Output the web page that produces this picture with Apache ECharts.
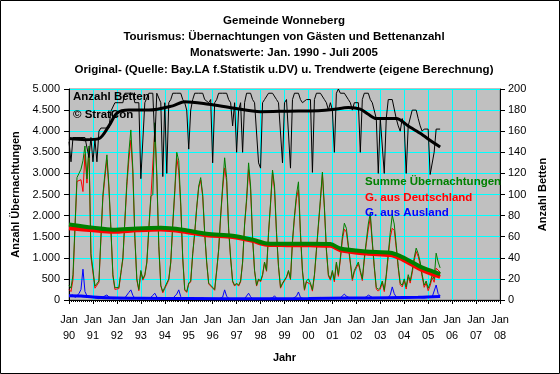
<!DOCTYPE html>
<html><head><meta charset="utf-8">
<script src="https://cdn.jsdelivr.net/npm/echarts@6/dist/echarts.min.js"></script>
<style>html,body{margin:0;padding:0;background:#fff}#c{width:560px;height:374px}</style>
</head><body><div id="c"></div>
<script>
// Monthly values Jan 1990 - Jul 2005 (one row per year)
const summe = [
 350,280,600,1750,2900,3000,3100,3300,3650,2870,3650,1100,
 1100,330,300,450,1500,2500,3000,3440,2700,1700,600,290,
 280,300,650,1000,1900,2800,3500,4030,3100,1500,500,250,
 700,500,600,900,1700,2450,2500,4200,3000,1300,350,200,
 300,280,500,900,1800,2600,3500,3300,2300,1000,250,200,
 400,450,1100,1600,2200,2700,2900,2500,1600,900,400,350,
 300,250,700,1200,2000,2700,3370,2900,1700,1000,450,350,
 400,350,450,900,1800,2400,3250,2700,1500,700,350,500,
 450,600,900,700,1600,2300,3080,2700,1600,800,300,400,
 400,550,700,500,1400,2000,2500,2800,1600,700,250,450,
 500,400,240,600,1200,1800,2400,3030,2200,1200,600,500,
 700,470,900,600,1000,1500,1820,1700,1300,900,500,700,
 800,900,700,500,1000,1400,1800,2060,1400,800,300,250,
 300,450,240,600,1100,1600,2010,1800,1300,800,400,350,
 500,310,600,450,700,1000,1230,1100,900,600,350,450,
 280,400,600,500,1110,900,760
];
const deutschland = [
 250,200,480,1690,2810,2850,2850,2570,3450,2770,3590,1020,
 1040,280,260,420,1450,2430,2910,3320,2630,1660,570,250,
 240,270,620,970,1850,2710,3320,3790,2990,1460,470,220,
 670,470,570,870,1660,2390,2390,4040,2930,1270,330,170,
 270,250,470,880,1760,2530,3360,3060,2220,970,230,180,
 380,430,1080,1580,2170,2660,2840,2450,1570,880,380,330,
 280,230,680,1180,1960,2630,3130,2810,1660,980,430,330,
 380,330,430,880,1770,2340,3090,2620,1470,680,330,480,
 430,580,880,680,1570,2260,3030,2600,1560,780,280,380,
 380,530,680,480,1370,1950,2410,2610,1540,670,230,430,
 470,370,210,570,1160,1750,2340,2980,2160,1170,570,470,
 660,430,860,560,950,1420,1680,1610,1250,860,460,660,
 760,860,660,460,950,1330,1680,1950,1340,760,260,210,
 260,410,200,550,1040,1480,1700,1650,1230,750,360,310,
 450,260,550,400,640,930,1150,1030,840,550,300,400,
 220,340,530,420,755,750,660
];
const ausland = [
 100,80,120,60,90,150,250,730,200,100,60,80,
 60,50,40,30,50,70,90,120,70,40,30,40,
 40,30,30,30,50,90,180,240,110,40,30,30,
 30,30,30,30,40,60,110,160,70,30,20,30,
 30,30,30,20,40,70,140,240,80,30,20,20,
 20,20,20,20,30,40,60,50,30,20,20,20,
 20,20,20,20,40,70,240,90,40,20,20,20,
 20,20,20,20,30,60,160,80,30,20,20,20,
 20,20,20,20,30,40,50,100,40,20,20,20,
 20,20,20,20,30,50,90,190,60,30,20,20,
 30,30,30,30,40,50,60,50,40,30,30,30,
 40,40,40,40,50,80,140,90,50,40,40,40,
 40,40,40,40,50,70,120,110,60,40,40,40,
 40,40,40,50,60,120,310,150,70,50,40,40,
 50,50,50,50,60,70,80,70,60,50,50,50,
 60,60,70,80,355,150,100
];
const betten = [
 150,131,154,154,154,154,154,154,154,154,135,154,
 131,152,131,160,163,163,163,163,163,179,179,187,
 187,187,187,187,196,196,196,196,196,187,187,187,
 115,115,187,187,196,196,196,150,196,196,187,117,
 187,120,187,190,196,196,196,196,196,190,187,180,
 143,180,190,196,196,196,196,196,190,190,187,190,
 130,187,190,196,196,196,196,196,190,187,165,187,
 140,180,187,140,187,196,196,196,190,187,187,130,
 125,187,190,190,196,196,196,196,190,187,187,130,
 187,190,190,125,190,196,196,196,190,187,187,190,
 190,190,121,190,196,196,196,196,190,187,180,187,
 180,140,196,200,196,196,196,196,190,187,180,187,
 187,187,140,190,196,196,196,190,187,187,172,120,
 172,172,120,172,190,190,190,190,172,165,160,172,
 165,120,165,165,180,180,180,172,165,160,162,162,
 162,119,119,140,162,162,162
];
// Trend values (month index since Jan 1990)
const trendMonths   = [0,12,22,34,46,57,69,82,92,99,109,121,131,136,149,161,166,171,176,181,186];
const trendSumme    = [1790,1715,1665,1695,1710,1665,1570,1525,1430,1340,1330,1330,1325,1220,1150,1120,1040,920,790,700,615];
const trendDeutsch  = [1700,1650,1615,1650,1670,1625,1535,1495,1400,1310,1300,1295,1285,1180,1100,1065,985,860,730,630,550];
const auslandMonths = [0,6,12,24,36,60,96,120,140,160,175,186];
const trendAusland  = [100,95,70,45,40,35,30,35,45,55,65,85];
const bettenMonths  = [0,8,15,20,24,30,40,52,58,70,82,96,110,125,132,140,146,150,154,164,170,176,182,186];
const trendBetten   = [153,152,153,165,177,180,180,184,188,185.5,182,178.5,179,179.5,180.5,182.5,181,176,172,172,165,158,150,145];
const yearLabels = ['90','91','92','93','94','95','96','97','98','99','00','01','02','03','04','05','06','07','08'];
const titles = [
 'Gemeinde Wonneberg',
 'Tourismus: Übernachtungen von Gästen und Bettenanzahl',
 'Monatswerte: Jan. 1990 - Juli 2005',
 'Original- (Quelle: Bay.LA f.Statistik u.DV) u. Trendwerte (eigene Berechnung)'
];

const FF = 'Arial, "Liberation Sans", sans-serif';
const idx = a => a.map((v,i)=>[i,v]);
const pairs = (m,v) => m.map((x,i)=>[x,v[i]]);
const fmtDE = v => v>=1000 ? Math.floor(v/1000)+'.'+String(v%1000).padStart(3,'0') : String(v);

const chart = echarts.init(document.getElementById('c'), null, {renderer:'canvas'});
const thin = (name,data,color,yi) => ({type:'line',name,data,yAxisIndex:yi||0,showSymbol:false,symbol:'none',
  lineStyle:{color,width:1},itemStyle:{color},animation:false});
const thick = (name,data,color,w,yi) => ({type:'line',name,data,yAxisIndex:yi||0,showSymbol:false,symbol:'none',smooth:0.3,
  lineStyle:{color,width:w},itemStyle:{color},animation:false});

const graphics = [
  {type:'rect',shape:{x:0.5,y:0.5,width:559,height:373},style:{fill:'none',stroke:'#000',lineWidth:1},z:100}
];
const tY = [21,37,53,70];
titles.forEach((t,i)=>graphics.push({type:'text',x:284,y:tY[i],style:{text:t,font:'bold 11.5px '+FF,fill:'#000',textAlign:'center',textVerticalAlign:'middle'},z:100}));
const lab = (t,x,y,c)=>({type:'text',x,y,style:{text:t,font:'bold 11.5px '+FF,fill:c,textAlign:'left',textVerticalAlign:'middle'},z:100});
graphics.push(lab('Anzahl Betten',73,96.5,'#000'));
graphics.push(lab('© StratCon',73,115,'#000'));
graphics.push(lab('Summe Übernachtungen',365,182,'#008000'));
graphics.push(lab('G. aus Deutschland',365,197.5,'#FF0000'));
graphics.push(lab('G. aus Ausland',365,212.5,'#0000FF'));

chart.setOption({
  animation:false,
  backgroundColor:'#fff',
  grid:{left:69,right:60,top:89,bottom:74,show:true,backgroundColor:'#C0C0C0',borderColor:'#808080',borderWidth:1},
  xAxis:{type:'value',min:0,max:216,interval:12,
    name:'Jahr',nameLocation:'middle',nameGap:52,nameTextStyle:{fontFamily:FF,fontSize:11,fontWeight:'bold',color:'#000'},
    axisLine:{show:true,lineStyle:{color:'#000',width:1}},
    axisTick:{show:true,length:4,lineStyle:{color:'#000'}},
    minorTick:{show:true,splitNumber:12,length:2,lineStyle:{color:'#000'}},
    splitLine:{show:true,lineStyle:{color:'#00FFFF',width:1}},
    axisLabel:{margin:12,fontFamily:FF,fontSize:11,color:'#000',lineHeight:16,
      formatter:v=>'Jan\n'+yearLabels[Math.round(v/12)]}},
  yAxis:[
    {type:'value',min:0,max:5000,interval:500,position:'left',
      name:'Anzahl Übernachtungen',nameLocation:'middle',nameGap:37,nameRotate:90,
      nameTextStyle:{fontFamily:FF,fontSize:11,fontWeight:'bold',color:'#000'},
      axisLine:{show:true,lineStyle:{color:'#000'}},axisTick:{show:true,length:5,lineStyle:{color:'#000'}},
      splitLine:{show:true,lineStyle:{color:'#00FFFF',width:1}},
      axisLabel:{margin:9,fontFamily:FF,fontSize:11,color:'#000',formatter:fmtDE}},
    {type:'value',min:0,max:200,interval:20,position:'right',
      name:'Anzahl Betten',nameLocation:'middle',nameGap:29,nameRotate:90,
      nameTextStyle:{fontFamily:FF,fontSize:11,fontWeight:'bold',color:'#000'},
      axisLine:{show:true,lineStyle:{color:'#000'}},axisTick:{show:true,length:5,lineStyle:{color:'#000'}},
      splitLine:{show:false},
      axisLabel:{margin:8,fontFamily:FF,fontSize:11,color:'#000'}}
  ],
  series:[
    thin('G. aus Deutschland',idx(deutschland),'#FF0000'),
    thin('Summe Übernachtungen',idx(summe),'#008000'),
    thin('G. aus Ausland',idx(ausland),'#0000FF'),
    thick('Trend Deutschland',pairs(trendMonths,trendDeutsch),'#FF0000',4),
    thick('Trend Summe',pairs(trendMonths,trendSumme),'#008000',4),
    thick('Trend Ausland',pairs(auslandMonths,trendAusland),'#0000FF',3),
    thin('Anzahl Betten',idx(betten),'#000000',1),
    thick('Trend Betten',pairs(bettenMonths,trendBetten),'#000000',3,1)
  ],
  graphic:graphics
});
</script></body></html>
